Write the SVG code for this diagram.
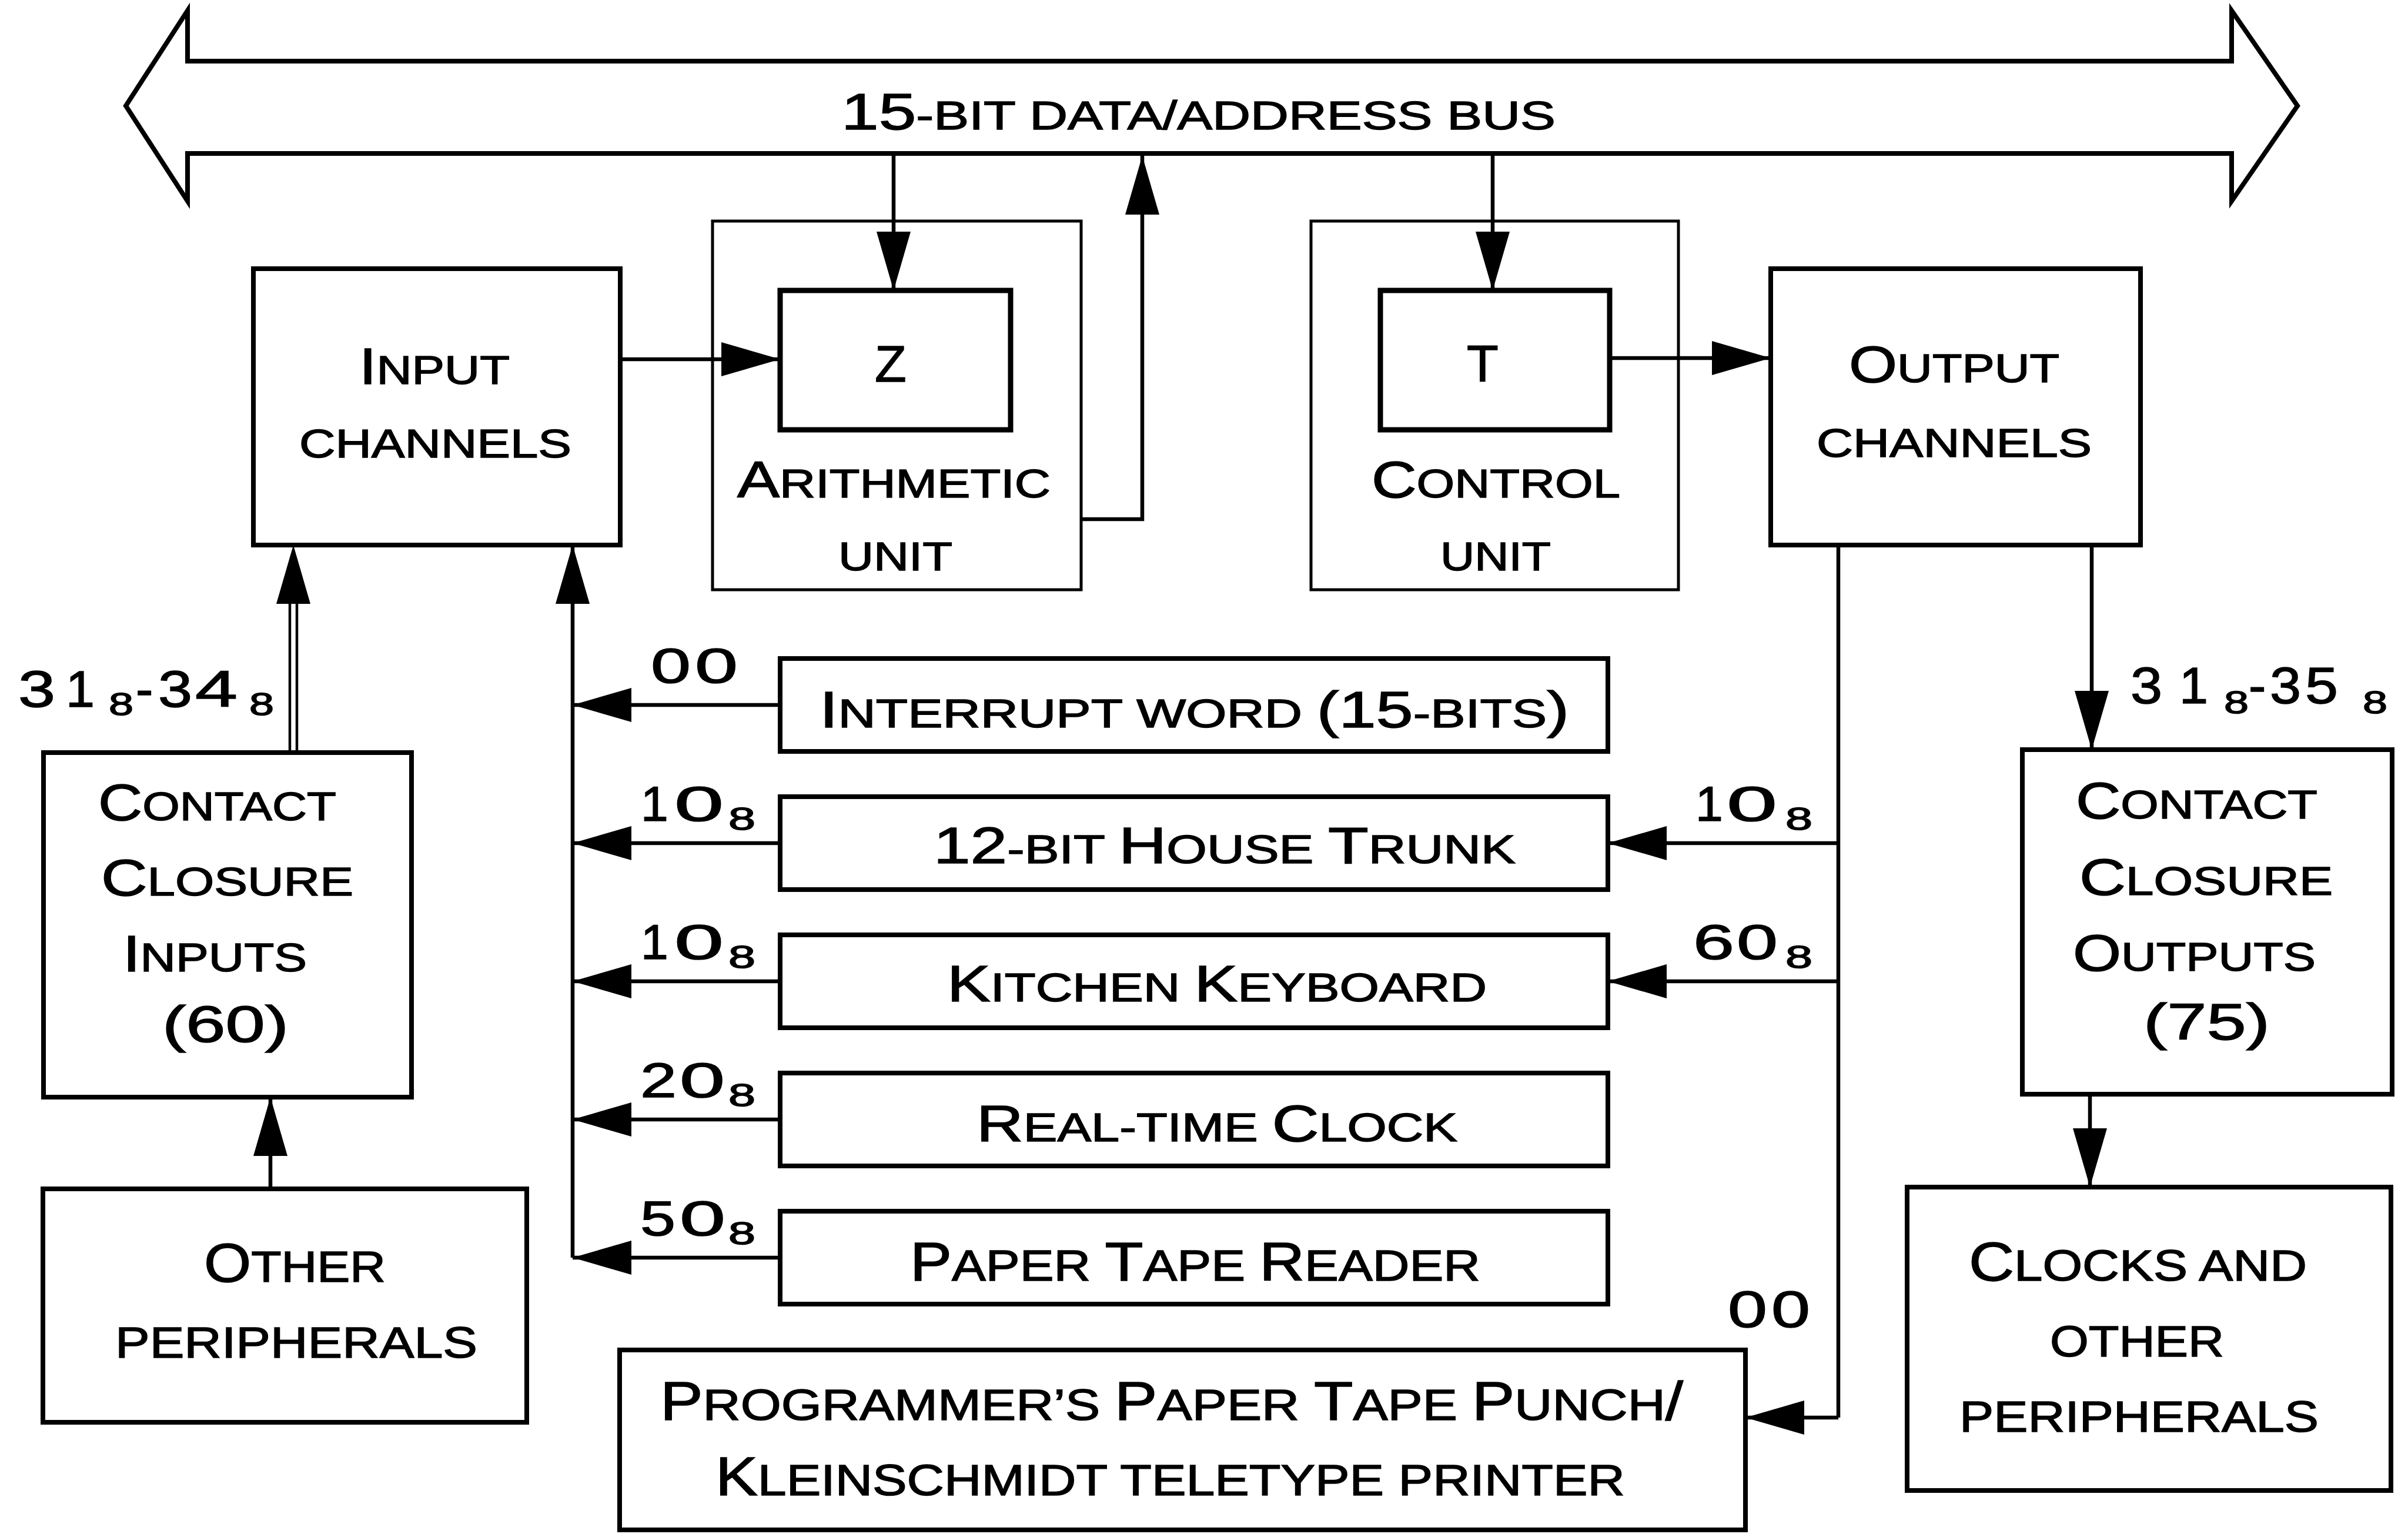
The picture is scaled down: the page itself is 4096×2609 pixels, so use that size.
<svg xmlns="http://www.w3.org/2000/svg" width="4096" height="2609" viewBox="0 0 4096 2609">
<defs>
<style>
.t{font-family:"Liberation Sans",Arial,sans-serif;fill:#000;stroke:#000;stroke-width:1.5}
.B{font-size:88px}.S{font-size:69px}
.B2{font-size:92px}.S2{font-size:75px}
.D{font-size:84px}
.sub{font-family:"Liberation Sans",Arial,sans-serif;font-size:53px;fill:#000;stroke:#000;stroke-width:1.5}
.box{fill:#fff;stroke:#000;stroke-width:8}
.unit{fill:none;stroke:#000;stroke-width:5}
.reg{fill:#fff;stroke:#000;stroke-width:9}
.ln{fill:none;stroke:#000;stroke-width:6.5}
.dbl{fill:none;stroke:#000;stroke-width:4.5}
.arr{marker-end:url(#ah)}
</style>
<marker id="ah" viewBox="0 0 100 58" refX="100" refY="29" markerWidth="100" markerHeight="58" markerUnits="userSpaceOnUse" orient="auto">
<path d="M0,0 L100,29 L0,58 Z" fill="#000"/>
</marker>
</defs>
<rect width="4096" height="2609" fill="#fff"/>

<g id="bus">
<path d="M319,104 H3796 V18 L3908,180 L3796,342 V261 H319 V342 L214,180 L319,18 Z" fill="none" stroke="#000" stroke-width="8"/>
<text class="t B" x="1431" y="220" textLength="1215" lengthAdjust="spacingAndGlyphs">15<tspan class="S">-BIT DATA/ADDRESS BUS</tspan></text>
</g>

<g id="input-channels">
<rect class="box" x="431" y="457" width="624" height="470"/>
<text class="t B" x="611" y="653" textLength="256" lengthAdjust="spacingAndGlyphs">I<tspan class="S">NPUT</tspan></text>
<text class="t S" x="509" y="778" textLength="463" lengthAdjust="spacingAndGlyphs">CHANNELS</text>
</g>

<g id="arithmetic-unit">
<rect class="unit" x="1212" y="376" width="627" height="627"/>
<rect class="reg" x="1327" y="494" width="392" height="237"/>
<text class="t B" x="1515" y="649" text-anchor="middle">Z</text>
<text class="t B" x="1254" y="846" textLength="533" lengthAdjust="spacingAndGlyphs">A<tspan class="S">RITHMETIC</tspan></text>
<text class="t S" x="1426" y="970" textLength="194" lengthAdjust="spacingAndGlyphs">UNIT</text>
</g>

<g id="control-unit">
<rect class="unit" x="2230" y="376" width="625" height="627"/>
<rect class="reg" x="2348" y="494" width="390" height="237"/>
<text class="t B" x="2522" y="648" text-anchor="middle">T</text>
<text class="t B" x="2333" y="846" textLength="423" lengthAdjust="spacingAndGlyphs">C<tspan class="S">ONTROL</tspan></text>
<text class="t S" x="2450" y="970" textLength="188" lengthAdjust="spacingAndGlyphs">UNIT</text>
</g>

<g id="output-channels">
<rect class="box" x="3012" y="457" width="629" height="470"/>
<text class="t B" x="3145" y="650" textLength="358" lengthAdjust="spacingAndGlyphs">O<tspan class="S">UTPUT</tspan></text>
<text class="t S" x="3090" y="777" textLength="468" lengthAdjust="spacingAndGlyphs">CHANNELS</text>
</g>

<g id="contact-closure-inputs">
<rect class="box" x="74" y="1280" width="626" height="586"/>
<text class="t B" x="167" y="1395" textLength="405" lengthAdjust="spacingAndGlyphs">C<tspan class="S">ONTACT</tspan></text>
<text class="t B" x="172" y="1523" textLength="429" lengthAdjust="spacingAndGlyphs">C<tspan class="S">LOSURE</tspan></text>
<text class="t B" x="209" y="1652" textLength="313" lengthAdjust="spacingAndGlyphs">I<tspan class="S">NPUTS</tspan></text>
<text class="t B" x="276" y="1772" textLength="215" lengthAdjust="spacingAndGlyphs">(60)</text>
</g>

<g id="other-peripherals">
<rect class="box" x="73" y="2022" width="823" height="397"/>
<text class="t B2" x="347" y="2180" textLength="309" lengthAdjust="spacingAndGlyphs">O<tspan class="S2">THER</tspan></text>
<text class="t S2" x="196" y="2309" textLength="616" lengthAdjust="spacingAndGlyphs">PERIPHERALS</text>
</g>

<g id="interrupt-word">
<rect class="box" x="1327" y="1120" width="1408" height="158"/>
<text class="t B" x="1394" y="1237" textLength="1275" lengthAdjust="spacingAndGlyphs">I<tspan class="S">NTERRUPT WORD </tspan>(15<tspan class="S">-BITS</tspan>)</text>
</g>

<g id="house-trunk">
<rect class="box" x="1327" y="1355" width="1408" height="158"/>
<text class="t B" x="1588" y="1468" textLength="990" lengthAdjust="spacingAndGlyphs">12<tspan class="S">-BIT </tspan>H<tspan class="S">OUSE </tspan>T<tspan class="S">RUNK</tspan></text>
</g>

<g id="kitchen-keyboard">
<rect class="box" x="1327" y="1590" width="1408" height="158"/>
<text class="t B" x="1611" y="1703" textLength="918" lengthAdjust="spacingAndGlyphs">K<tspan class="S">ITCHEN </tspan>K<tspan class="S">EYBOARD</tspan></text>
</g>

<g id="real-time-clock">
<rect class="box" x="1327" y="1825" width="1408" height="158"/>
<text class="t B" x="1661" y="1941" textLength="818" lengthAdjust="spacingAndGlyphs">R<tspan class="S">EAL-TIME </tspan>C<tspan class="S">LOCK</tspan></text>
</g>

<g id="paper-tape-reader">
<rect class="box" x="1327" y="2060" width="1408" height="158"/>
<text class="t B2" x="1548" y="2178" textLength="970" lengthAdjust="spacingAndGlyphs">P<tspan class="S2">APER </tspan>T<tspan class="S2">APE </tspan>R<tspan class="S2">EADER</tspan></text>
</g>

<g id="punch-printer">
<rect class="box" x="1054" y="2296" width="1915" height="306"/>
<text class="t B2" x="1123" y="2415" textLength="1740" lengthAdjust="spacingAndGlyphs">P<tspan class="S2">ROGRAMMER’S </tspan>P<tspan class="S2">APER </tspan>T<tspan class="S2">APE </tspan>P<tspan class="S2">UNCH</tspan>/</text>
<text class="t B2" x="1217" y="2543" textLength="1547" lengthAdjust="spacingAndGlyphs">K<tspan class="S2">LEINSCHMIDT TELETYPE PRINTER</tspan></text>
</g>

<g id="contact-closure-outputs">
<rect class="box" x="3440" y="1275" width="629" height="586"/>
<text class="t B" x="3531" y="1392" textLength="411" lengthAdjust="spacingAndGlyphs">C<tspan class="S">ONTACT</tspan></text>
<text class="t B" x="3537" y="1522" textLength="431" lengthAdjust="spacingAndGlyphs">C<tspan class="S">LOSURE</tspan></text>
<text class="t B" x="3526" y="1651" textLength="413" lengthAdjust="spacingAndGlyphs">O<tspan class="S">UTPUTS</tspan></text>
<text class="t B" x="3646" y="1768" textLength="215" lengthAdjust="spacingAndGlyphs">(75)</text>
</g>

<g id="clocks-other-peripherals">
<rect class="box" x="3244" y="2019" width="823" height="516"/>
<text class="t B2" x="3349" y="2178" textLength="575" lengthAdjust="spacingAndGlyphs">C<tspan class="S2">LOCKS AND</tspan></text>
<text class="t S2" x="3487" y="2307" textLength="296" lengthAdjust="spacingAndGlyphs">OTHER</text>
<text class="t S2" x="3333" y="2435" textLength="611" lengthAdjust="spacingAndGlyphs">PERIPHERALS</text>
</g>

<g id="connectors">
<line class="ln arr" x1="1520" y1="261" x2="1520" y2="494"/>
<line class="ln arr" x1="2539" y1="261" x2="2539" y2="494"/>
<path class="ln arr" d="M1839,883 H1943 V265"/>
<line class="ln arr" x1="1055" y1="611" x2="1327" y2="611"/>
<line class="ln arr" x1="2738" y1="609" x2="3012" y2="609"/>
<line class="dbl" x1="493" y1="1280" x2="493" y2="1020"/>
<line class="dbl" x1="505" y1="1280" x2="505" y2="1020"/>
<polygon points="499,927 470,1027 528,1027" fill="#000"/>
<line class="ln arr" x1="460" y1="2022" x2="460" y2="1866"/>
<line class="ln arr" x1="974" y1="2139" x2="974" y2="927"/>
<line class="ln arr" x1="1327" y1="1199" x2="974" y2="1199"/>
<line class="ln arr" x1="1327" y1="1434" x2="974" y2="1434"/>
<line class="ln arr" x1="1327" y1="1669" x2="974" y2="1669"/>
<line class="ln arr" x1="1327" y1="1904" x2="974" y2="1904"/>
<line class="ln arr" x1="1327" y1="2139" x2="974" y2="2139"/>
<path class="ln" d="M3127,927 V2411"/>
<line class="ln arr" x1="3127" y1="1434" x2="2735" y2="1434"/>
<line class="ln arr" x1="3127" y1="1669" x2="2735" y2="1669"/>
<line class="ln arr" x1="3127" y1="2411" x2="2969" y2="2411"/>
<line class="ln arr" x1="3558" y1="927" x2="3558" y2="1275"/>
<line class="ln arr" x1="3555" y1="1861" x2="3555" y2="2019"/>
</g>

<g id="connector-labels">
<text class="t B"><tspan x="31" y="1202" textLength="63" lengthAdjust="spacingAndGlyphs">3</tspan><tspan x="112" y="1202">1</tspan><tspan class="sub" x="185" y="1216" textLength="42" lengthAdjust="spacingAndGlyphs">8</tspan><tspan x="231" y="1202">-</tspan><tspan x="269" y="1202" textLength="58" lengthAdjust="spacingAndGlyphs">3</tspan><tspan x="332" y="1202" textLength="72" lengthAdjust="spacingAndGlyphs">4</tspan><tspan class="sub" x="424" y="1216" textLength="42" lengthAdjust="spacingAndGlyphs">8</tspan></text>
<text class="t B"><tspan x="3624" y="1196" textLength="54" lengthAdjust="spacingAndGlyphs">3</tspan><tspan x="3707" y="1196">1</tspan><tspan class="sub" x="3783" y="1213" textLength="42" lengthAdjust="spacingAndGlyphs">8</tspan><tspan x="3825" y="1196">-</tspan><tspan x="3861" y="1196" textLength="53" lengthAdjust="spacingAndGlyphs">3</tspan><tspan x="3921" y="1196" textLength="56" lengthAdjust="spacingAndGlyphs">5</tspan><tspan class="sub" x="4019" y="1213" textLength="42" lengthAdjust="spacingAndGlyphs">8</tspan></text>
<text class="t D"><tspan x="1107" y="1161" textLength="68" lengthAdjust="spacingAndGlyphs">0</tspan><tspan x="1182" y="1161" textLength="73" lengthAdjust="spacingAndGlyphs">0</tspan></text>
<text class="t D"><tspan x="1090" y="1396">1</tspan><tspan x="1147" y="1396" textLength="84" lengthAdjust="spacingAndGlyphs">0</tspan><tspan class="sub" x="1239" y="1411" textLength="46" lengthAdjust="spacingAndGlyphs">8</tspan></text>
<text class="t D"><tspan x="1090" y="1631">1</tspan><tspan x="1147" y="1631" textLength="84" lengthAdjust="spacingAndGlyphs">0</tspan><tspan class="sub" x="1239" y="1646" textLength="46" lengthAdjust="spacingAndGlyphs">8</tspan></text>
<text class="t D"><tspan x="1089" y="1866" textLength="62" lengthAdjust="spacingAndGlyphs">2</tspan><tspan x="1156" y="1866" textLength="77" lengthAdjust="spacingAndGlyphs">0</tspan><tspan class="sub" x="1239" y="1881" textLength="46" lengthAdjust="spacingAndGlyphs">8</tspan></text>
<text class="t D"><tspan x="1089" y="2101" textLength="60" lengthAdjust="spacingAndGlyphs">5</tspan><tspan x="1156" y="2101" textLength="78" lengthAdjust="spacingAndGlyphs">0</tspan><tspan class="sub" x="1239" y="2116" textLength="46" lengthAdjust="spacingAndGlyphs">8</tspan></text>
<text class="t D"><tspan x="2884" y="1396">1</tspan><tspan x="2937" y="1396" textLength="86" lengthAdjust="spacingAndGlyphs">0</tspan><tspan class="sub" x="3037" y="1411" textLength="46" lengthAdjust="spacingAndGlyphs">8</tspan></text>
<text class="t D"><tspan x="2880" y="1631" textLength="70" lengthAdjust="spacingAndGlyphs">6</tspan><tspan x="2954" y="1631" textLength="70" lengthAdjust="spacingAndGlyphs">0</tspan><tspan class="sub" x="3037" y="1646" textLength="46" lengthAdjust="spacingAndGlyphs">8</tspan></text>
<text class="t B"><tspan x="2939" y="2257" textLength="67" lengthAdjust="spacingAndGlyphs">0</tspan><tspan x="3013" y="2257" textLength="66" lengthAdjust="spacingAndGlyphs">0</tspan></text>
</g>
</svg>
